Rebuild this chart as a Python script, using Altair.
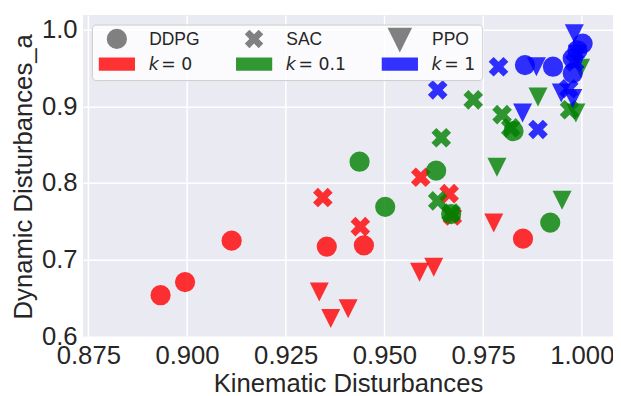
import altair as alt
import pandas as pd

algos = ["DDPG", "SAC", "PPO"]
k_values = ["0", "0.1", "1"]
k_colors = ["#ff0000", "#008000", "#0000ff"]

x_ticks = [0.875, 0.900, 0.925, 0.950, 0.975, 1.000]
y_ticks = [0.6, 0.7, 0.8, 0.9, 1.0]

# ---- k = 0 ----
ddpg_k0_x = [0.8933, 0.8995, 0.9113, 0.9354, 0.9448, 0.9851]
ddpg_k0_y = [0.6537, 0.6708, 0.7248, 0.7171, 0.7188, 0.7274]
sac_k0_x = [0.9344, 0.9439, 0.9592, 0.9664, 0.9672]
sac_k0_y = [0.7811, 0.7432, 0.8076, 0.7862, 0.7570]
ppo_k0_x = [0.9335, 0.9364, 0.9408, 0.9589, 0.9625, 0.9777]
ppo_k0_y = [0.6579, 0.6232, 0.6360, 0.6837, 0.6901, 0.7480]

# ---- k = 0.1 ----
ddpg_k01_x = [0.9437, 0.9502, 0.9631, 0.9669, 0.9827, 0.9920]
ddpg_k01_y = [0.8278, 0.7690, 0.8162, 0.7596, 0.8677, 0.7484]
sac_k01_x = [0.9644, 0.9635, 0.9669, 0.9725, 0.9798, 0.9820, 0.9969]
sac_k01_y = [0.8591, 0.7767, 0.7609, 0.9085, 0.8892, 0.8719, 0.8956]
ppo_k01_x = [0.9785, 0.9889, 0.9950, 0.9985, 0.9997]
ppo_k01_y = [0.8205, 0.9121, 0.7776, 0.8913, 0.9497]

# ---- k = 1 ----
ddpg_k1_x = [0.9856, 0.9927, 1.0002, 0.9977, 0.9977, 0.9989]
ddpg_k1_y = [0.9539, 0.9517, 0.9819, 0.9626, 0.9432, 0.9732]
sac_k1_x = [0.9635, 0.9789, 0.9889, 0.9967, 0.9982]
sac_k1_y = [0.9214, 0.9517, 0.8699, 0.9230, 0.9578]
ppo_k1_x = [0.9885, 0.9850, 0.9948, 0.9981, 0.9977, 0.9989]
ppo_k1_y = [0.9517, 0.8913, 0.9173, 0.9947, 0.9102, 0.9681]

series = [
    ("0", "DDPG", ddpg_k0_x, ddpg_k0_y),
    ("0", "SAC", sac_k0_x, sac_k0_y),
    ("0", "PPO", ppo_k0_x, ppo_k0_y),
    ("0.1", "DDPG", ddpg_k01_x, ddpg_k01_y),
    ("0.1", "SAC", sac_k01_x, sac_k01_y),
    ("0.1", "PPO", ppo_k01_x, ppo_k01_y),
    ("1", "DDPG", ddpg_k1_x, ddpg_k1_y),
    ("1", "SAC", sac_k1_x, sac_k1_y),
    ("1", "PPO", ppo_k1_x, ppo_k1_y),
]
rows = []
for k, algo, xs, ys in series:
    for xv, yv in zip(xs, ys):
        rows.append({"k": k, "algo": algo, "kin": xv, "dyn": yv})
df = pd.DataFrame(rows)

X_PATH = ("M-1,-0.5L-0.5,-1L0,-0.5L0.5,-1L1,-0.5L0.5,0L1,0.5L0.5,1"
          "L0,0.5L-0.5,1L-1,0.5L-0.5,0Z")
TRI_PATH = "M-1,-1L1,-1L0,1Z"
shape_range = ["circle", X_PATH, TRI_PATH]

TXT = "#262626"
FONT = "Liberation Sans"

points = alt.Chart(df).mark_point(filled=True, opacity=0.8, strokeWidth=0).encode(
    x=alt.X("kin:Q", title="Kinematic Disturbances",
            scale=alt.Scale(domain=[0.87365, 1.0079], nice=False, zero=False),
            axis=alt.Axis(values=x_ticks, format=".3f", labelPadding=5,
                          titlePadding=3, labelFlush=False, labelOverlap=False)),
    y=alt.Y("dyn:Q", title="Dynamic Disturbances_a",
            scale=alt.Scale(domain=[0.5983, 1.0192], nice=False, zero=False),
            axis=alt.Axis(values=y_ticks, format=".1f", labelPadding=6,
                          titlePadding=5, labelFlush=False, labelOverlap=False)),
    color=alt.Color("k:N", scale=alt.Scale(domain=k_values, range=k_colors), legend=None),
    shape=alt.Shape("algo:N", scale=alt.Scale(domain=algos, range=shape_range), legend=None),
    size=alt.Size("algo:O", scale=alt.Scale(domain=algos, range=[420, 370, 500]), legend=None),
)

one = pd.DataFrame({"_": [0]})
layers = [points]

# legend frame
layers.append(
    alt.Chart(one).mark_rect(fill="white", fillOpacity=0.8, stroke="#cccccc",
                             strokeWidth=1, cornerRadius=4).encode(
        x=alt.value(9.5), x2=alt.value(405), y=alt.value(10.2), y2=alt.value(66.5))
)

col_off = [0, 139, 286.7]
leg_shapes = ["circle", X_PATH, TRI_PATH]
leg_sizes = [420, 350, 620]
leg_y = [24.3, 24.3, 25.5]
for i, algo in enumerate(algos):
    layers.append(
        alt.Chart(one).mark_point(shape=leg_shapes[i], size=leg_sizes[i], filled=True,
                                  color="#808080", opacity=1, strokeWidth=0).encode(
            x=alt.value(34.3 + col_off[i]), y=alt.value(leg_y[i]))
    )
    layers.append(
        alt.Chart(one).mark_text(text=algo, font=FONT, fontSize=17.7, color=TXT,
                                 align="left", baseline="alphabetic").encode(
            x=alt.value(67 + col_off[i]), y=alt.value(30.8))
    )

for i, k in enumerate(k_values):
    layers.append(
        alt.Chart(one).mark_rect(color=k_colors[i], opacity=0.8).encode(
            x=alt.value(16 + col_off[i]), x2=alt.value(52.7 + col_off[i]),
            y=alt.value(43.2), y2=alt.value(56.5))
    )
    layers.append(
        alt.Chart(one).mark_text(text="k", font="DejaVu Sans", fontStyle="italic",
                                 fontSize=17.5, color=TXT, align="left",
                                 baseline="alphabetic").encode(
            x=alt.value(66.5 + col_off[i]), y=alt.value(55.8))
    )
    layers.append(
        alt.Chart(one).mark_text(text="= " + k, font="DejaVu Sans",
                                 fontSize=17.5, color=TXT, align="left",
                                 baseline="alphabetic").encode(
            x=alt.value(79.4 + col_off[i]), y=alt.value(55.8))
    )

chart = alt.layer(*layers).properties(
    width=537, height=327,
    autosize=alt.AutoSizeParams(type="none"),
    padding={"left": 76, "top": 4.5, "right": 0, "bottom": 57},
).configure_view(
    fill="#EAEAF2", strokeWidth=0
).configure_axis(
    grid=True, gridColor="white", gridWidth=1.5, domain=False, ticks=False,
    labelFont=FONT, labelFontSize=26, labelColor=TXT,
    titleFont=FONT, titleFontSize=26, titleFontWeight="normal", titleColor=TXT,
)

chart.save("out.html", embed_options={"renderer": "svg", "actions": False})
